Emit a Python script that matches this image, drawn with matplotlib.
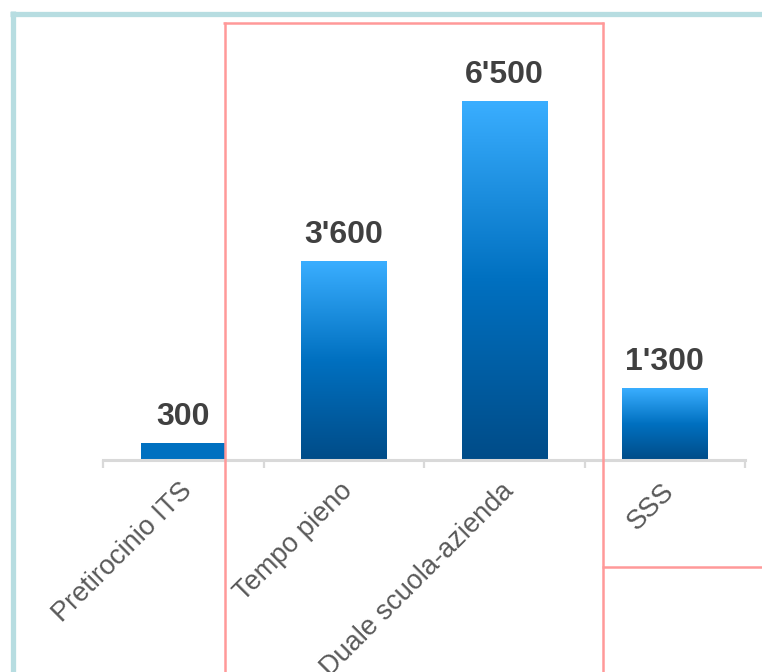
import matplotlib
matplotlib.use("Agg")
import matplotlib.pyplot as plt
import numpy as np
from matplotlib.colors import LinearSegmentedColormap
from matplotlib.lines import Line2D
from matplotlib.transforms import ScaledTranslation

plt.rcParams['font.family'] = ['Liberation Sans', 'DejaVu Sans']

categories = ["Pretirocinio ITS", "Tempo pieno", "Duale scuola-azienda", "SSS"]
values = [300, 3600, 6500, 1300]
value_labels = ["300", "3'600", "6'500", "1'300"]

W, H = 762, 672
fig = plt.figure(figsize=(W / 100, H / 100), dpi=100)
fig.patch.set_facecolor('white')

ax = fig.add_axes([103 / W, 212 / H, 642 / W, 386 / H])

cmap = LinearSegmentedColormap.from_list(
    "barfill", ["#014C88", "#0070C0", "#3AAEFF"])
grad = np.linspace(0, 1, 256).reshape(-1, 1)
bw = 0.53
for i, v in enumerate(values):
    if v < 1000:
        ax.bar(i, v, width=bw, color="#0070C0", zorder=2)
    else:
        ax.imshow(grad, cmap=cmap, origin='lower', aspect='auto',
                  extent=[i - bw / 2, i + bw / 2, 0, v], zorder=2)
    ax.annotate(value_labels[i], (i, v), xytext=(0, 8), textcoords='offset points',
                ha='center', va='bottom', fontsize=23, fontweight='bold',
                color='#404040', zorder=3)
ax.set_xlim(-0.5, len(categories) - 0.5)
ax.set_ylim(0, 7000)

for s in ['top', 'right', 'left']:
    ax.spines[s].set_visible(False)
ax.spines['bottom'].set_color('#D9D9D9')
ax.spines['bottom'].set_linewidth(2.2)
ax.set_yticks([])

ax.set_xticks(range(len(categories)))
ax.set_xticklabels(categories, rotation=45, ha='right', va='top',
                   rotation_mode='anchor', fontsize=19.5, color='#595959')
ax.tick_params(axis='x', which='major', length=0, pad=13)
ax.set_xticks(np.arange(-0.5, len(categories)), minor=True)
ax.tick_params(axis='x', which='minor', length=6, width=1.6, color='#D9D9D9',
               direction='out')
shift = ScaledTranslation(-4 / 100, 0, fig.dpi_scale_trans)
for lbl in ax.get_xticklabels():
    lbl.set_transform(lbl.get_transform() + shift)

# decorative frame lines (figure pixel coords)
def fline(xs, ys, color, lw):
    fig.add_artist(Line2D([x / W for x in xs], [1 - y / H for y in ys],
                          color=color, linewidth=lw, solid_capstyle='butt',
                          transform=fig.transFigure, zorder=10))

teal = '#B7DDE1'
fline([12.5, 12.5], [11, 672], teal, 3.8)
fline([10, 762], [13.5, 13.5], teal, 3.8)

pink = '#FF9999'
fline([224.5, 224.5], [22, 672], pink, 1.8)
fline([223.5, 603.5], [23, 23], pink, 1.8)
fline([602.5, 602.5], [22, 672], pink, 1.8)
fline([602, 762], [567, 567], pink, 1.8)

fig.savefig("out.png", dpi=100, facecolor='white')
